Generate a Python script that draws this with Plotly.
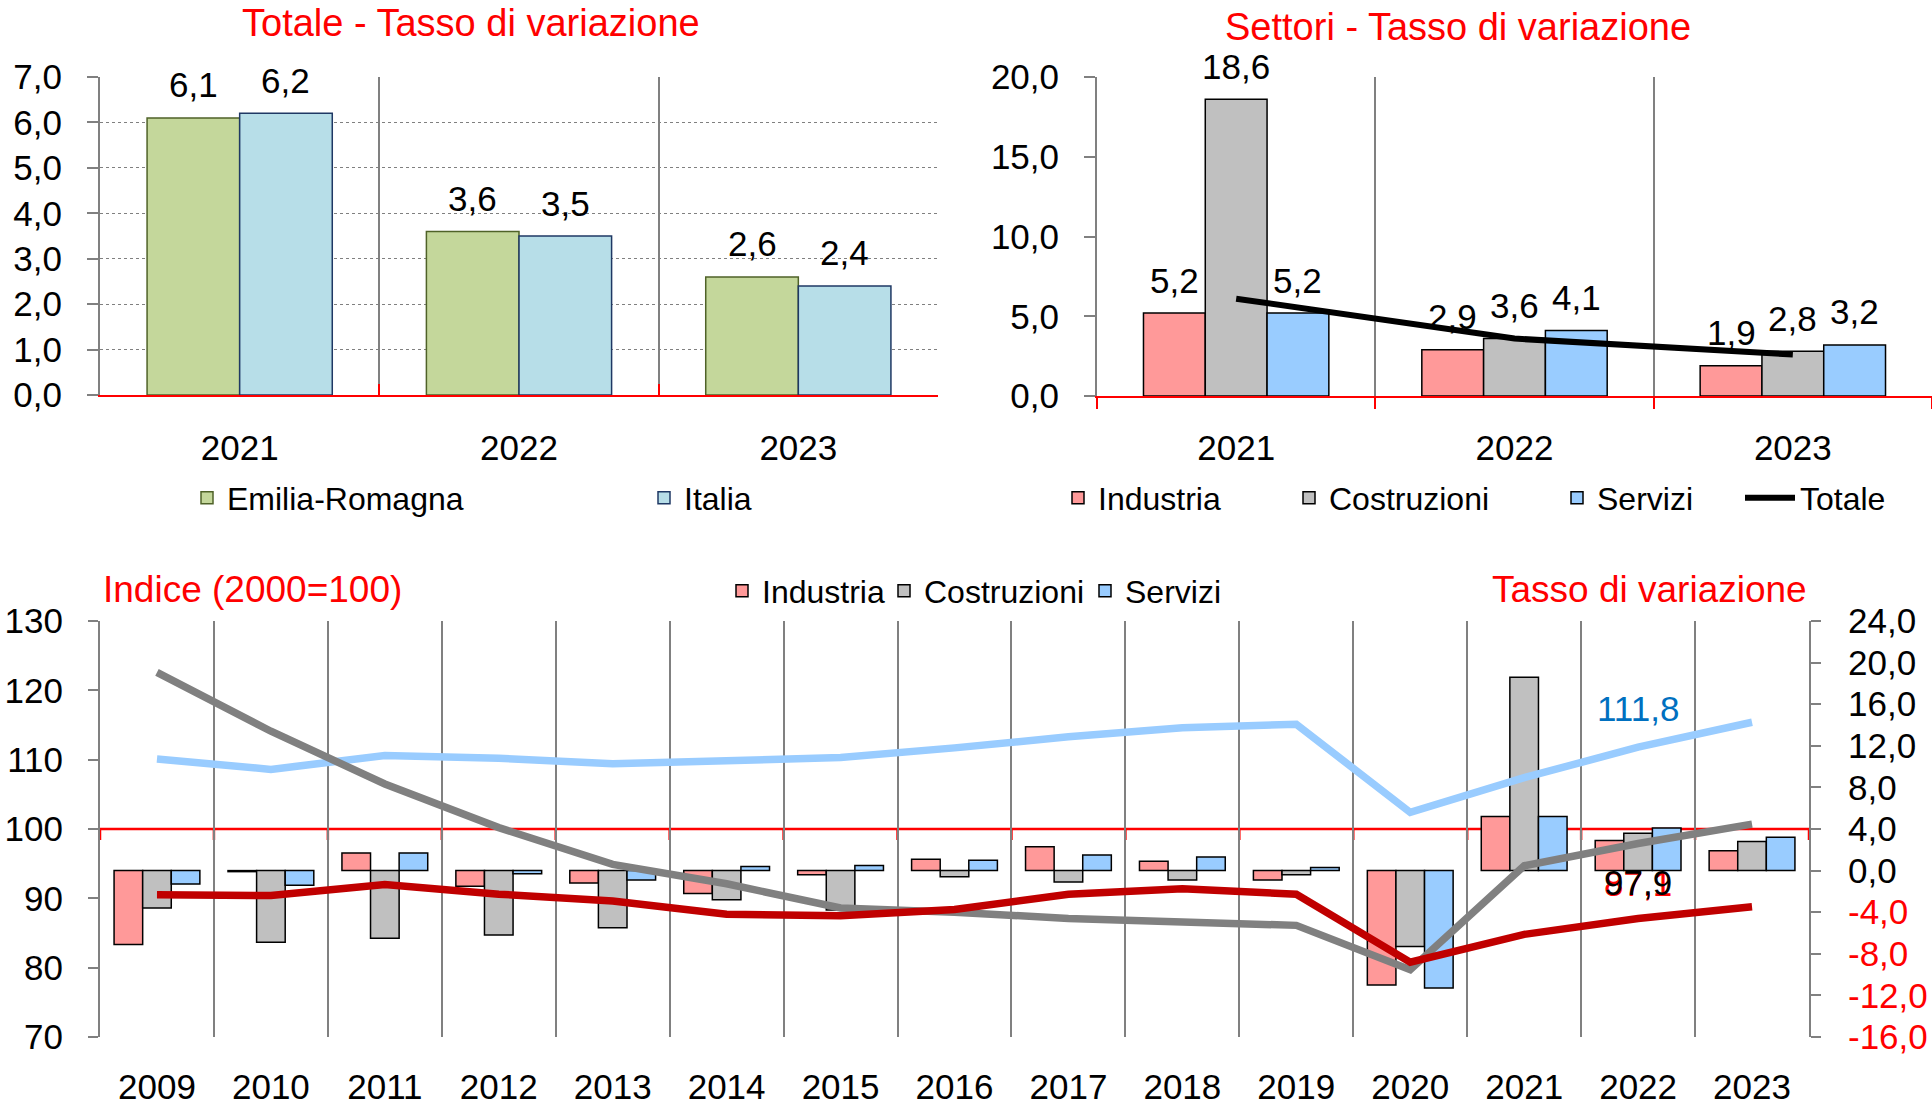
import plotly.graph_objects as go

W, H = 1932, 1108
FONT = "Liberation Sans, Arial, sans-serif"
RED = "#FF0000"
GRID = "#808080"

# ---------------- data ----------------
top_years = ["2021", "2022", "2023"]
tot_er = [6.1, 3.6, 2.6]
tot_it = [6.2, 3.5, 2.4]

set_ind = [5.2, 2.9, 1.9]
set_cos = [18.6, 3.6, 2.8]
set_ser = [5.2, 4.1, 3.2]
set_tot = [6.1, 3.6, 2.6]

years = ["2009", "2010", "2011", "2012", "2013", "2014", "2015", "2016",
         "2017", "2018", "2019", "2020", "2021", "2022", "2023"]
ind_rate = [-7.1, -0.1, 1.7, -1.5, -1.2, -2.2, -0.4, 1.1, 2.3, 0.9, -0.9, -11.0, 5.2, 2.9, 1.9]
cos_rate = [-3.6, -6.9, -6.5, -6.2, -5.5, -2.8, -3.8, -0.6, -1.1, -0.9, -0.4, -7.3, 18.6, 3.6, 2.8]
ser_rate = [-1.3, -1.4, 1.7, -0.3, -0.9, 0.4, 0.5, 1.0, 1.5, 1.3, 0.3, -11.3, 5.2, 4.1, 3.2]

ind_idx = [90.5, 90.4, 92.0, 90.6, 89.6, 87.7, 87.5, 88.4, 90.6, 91.4, 90.6, 80.8, 84.8, 87.1, 88.8]
cos_idx = [122.6, 114.1, 106.5, 100.2, 94.9, 92.1, 88.6, 88.0, 87.1, 86.5, 86.1, 79.7, 94.7, 97.9, 100.7]
ser_idx = [110.1, 108.6, 110.6, 110.2, 109.4, 109.8, 110.3, 111.7, 113.3, 114.6, 115.1, 102.4, 107.4, 111.8, 115.4]

rate_ticks = [-16, -12, -8, -4, 0, 4, 8, 12, 16, 20, 24]
BASE_INDEX = 100


def px(x):
    return x / W


def py(y):
    return 1 - y / H


def fmt(v):
    return f"{v:.1f}".replace(".", ",")


fig = go.Figure()
lblfont = dict(size=35, color="black", family=FONT)
LABEL_SHIFT = 33


def bar_labels(vals, off, width, xref, yref):
    for i, v in enumerate(vals):
        fig.add_annotation(x=i + off + width / 2, y=v, xref=xref, yref=yref, text=fmt(v),
                           showarrow=False, yanchor="middle", yshift=LABEL_SHIFT,
                           font=lblfont)


# ---------------- top-left: Totale ----------------
bw2 = 0.3315
for vals, name, col, lc, off, lg in [(tot_er, "Emilia-Romagna", "#C4D79B", "#4F6228", -bw2, "legend"),
                                     (tot_it, "Italia", "#B7DEE8", "#1F3864", 0, "legend2")]:
    fig.add_trace(go.Bar(x=top_years, y=vals, name=name, xaxis="x", yaxis="y",
                         offset=off, width=bw2,
                         marker=dict(color=col, line=dict(color=lc, width=1.5)),
                         legend=lg))
    bar_labels(vals, off, bw2, "x", "y")

# ---------------- top-right: Settori ----------------
bw3 = 0.222
for vals, name, col, off, lg in [(set_ind, "Industria", "#FF9999", -1.5 * bw3, "legend3"),
                                 (set_cos, "Costruzioni", "#C0C0C0", -0.5 * bw3, "legend4"),
                                 (set_ser, "Servizi", "#99CCFF", 0.5 * bw3, "legend5")]:
    fig.add_trace(go.Bar(x=top_years, y=vals, name=name, xaxis="x2", yaxis="y2",
                         offset=off, width=bw3,
                         marker=dict(color=col, line=dict(color="black", width=1.5)),
                         legend=lg))
    bar_labels(vals, off, bw3, "x2", "y2")
fig.add_trace(go.Scatter(x=top_years, y=set_tot, name="Totale", xaxis="x2", yaxis="y2",
                         mode="lines", line=dict(color="black", width=6), legend="legend6"))

# ---------------- bottom: bars (rates, right axis) ----------------
bwb = 0.251
for vals, name, col, off, lg in [(ind_rate, "Industria", "#FF9999", -1.5 * bwb, "legend7"),
                                 (cos_rate, "Costruzioni", "#C0C0C0", -0.5 * bwb, "legend8"),
                                 (ser_rate, "Servizi", "#99CCFF", 0.5 * bwb, "legend9")]:
    fig.add_trace(go.Bar(x=years, y=vals, name=name, xaxis="x3", yaxis="y3",
                         offset=off, width=bwb,
                         marker=dict(color=col, line=dict(color="black", width=1.5)),
                         legend=lg))

# ---------------- bottom: lines (index, left axis) ----------------
for vals, col in [(ser_idx, "#99CCFF"), (cos_idx, "#808080"), (ind_idx, "#C00000")]:
    fig.add_trace(go.Scatter(x=years, y=vals, xaxis="x3", yaxis="y4", mode="lines",
                             line=dict(color=col, width=7.5), showlegend=False))

tickfont = dict(size=35, color="black", family=FONT)
n = len(years)

layout = dict(
    template="none",
    width=W, height=H, autosize=False,
    margin=dict(l=0, r=0, t=0, b=0, pad=0),
    paper_bgcolor="white", plot_bgcolor="white",
    separators=",.",
    barmode="overlay",
    font=dict(family=FONT, size=31, color="black"),
    # top-left
    xaxis=dict(domain=[px(100), px(938)], anchor="y", type="category", tickson="boundaries",
               range=[-0.5, len(top_years) - 0.5],
               showgrid=True, gridcolor=GRID, gridwidth=1.5,
               showline=True, linecolor=RED, linewidth=2,
               ticks="inside", tickcolor=RED, ticklen=11, tickwidth=2,
               tickfont=tickfont, ticklabelstandoff=21, automargin=False),
    yaxis=dict(domain=[py(395), py(77)], anchor="x", range=[0, 7], dtick=1, tickformat=".1f",
               showgrid=True, gridcolor=GRID, griddash="dot", gridwidth=1,
               showline=True, linecolor=GRID, linewidth=2,
               ticks="outside", tickcolor=GRID, ticklen=11, tickwidth=2,
               zeroline=False, tickfont=tickfont, ticklabelstandoff=18, automargin=False),
    # top-right
    xaxis2=dict(domain=[px(1097), 1.0], anchor="y2", type="category", tickson="boundaries",
                range=[-0.5, len(top_years) - 0.5],
                showgrid=True, gridcolor=GRID, gridwidth=1.5,
                showline=True, linecolor=RED, linewidth=2,
                ticks="outside", tickcolor=RED, ticklen=11, tickwidth=2,
                tickfont=tickfont, ticklabelstandoff=20, automargin=False),
    yaxis2=dict(domain=[py(396), py(77)], anchor="x2", range=[0, 20], dtick=5, tickformat=".1f",
                showgrid=False, showline=True, linecolor=GRID, linewidth=2,
                ticks="outside", tickcolor=GRID, ticklen=11, tickwidth=2,
                zeroline=False, tickfont=tickfont, ticklabelstandoff=18, automargin=False),
    # bottom
    xaxis3=dict(domain=[px(100), px(1809)], anchor="y3", type="category", tickson="boundaries",
                range=[-0.5, n - 0.5], tickangle=0,
                showgrid=True, gridcolor=GRID, gridwidth=1.5, showline=False, ticks="",
                tickfont=tickfont, ticklabelstandoff=26, automargin=False),
    yaxis3=dict(domain=[py(1037), py(621)], anchor="x3", side="right", range=[-16, 24],
                tickvals=rate_ticks,
                ticktext=[(f'<span style="color:#FF0000">{fmt(v)}</span>' if v < 0 else fmt(v))
                          for v in rate_ticks],
                showgrid=False, zeroline=False, showline=True, linecolor=GRID, linewidth=2,
                ticks="outside", tickcolor=GRID, ticklen=10, tickwidth=2,
                tickfont=tickfont, ticklabelstandoff=20, automargin=False),
    yaxis4=dict(domain=[py(1037), py(621)], overlaying="y3", anchor="x3",
                side="left", range=[70, 130], dtick=10,
                showgrid=False, zeroline=False, showline=True, linecolor=GRID, linewidth=2,
                ticks="outside", tickcolor=GRID, ticklen=10, tickwidth=2,
                tickfont=tickfont, ticklabelstandoff=18, automargin=False),
)

# legends, one per entry for exact placement
leg_pos = {
    "legend": (227 - 40, 498, 30),
    "legend2": (684 - 40, 498, 30),
    "legend3": (1098 - 40, 498, 30),
    "legend4": (1329 - 40, 498, 30),
    "legend5": (1597 - 40, 498, 30),
    "legend6": (1800 - 60, 498, 50),
    "legend7": (762 - 40, 591, 30),
    "legend8": (924 - 40, 591, 30),
    "legend9": (1125 - 40, 591, 30),
}
for key, (lx, ly, iw) in leg_pos.items():
    layout[key] = dict(x=px(lx), y=py(ly), xanchor="left", yanchor="middle",
                       orientation="h", bgcolor="rgba(0,0,0,0)", borderwidth=0,
                       itemwidth=iw, font=dict(size=32, color="black", family=FONT))

fig.update_layout(**layout)

# red reference line at index 100 with ticks at category boundaries
fig.add_shape(type="line", xref="x3", yref="y4", x0=-0.5, x1=n - 0.5,
              y0=BASE_INDEX, y1=BASE_INDEX, line=dict(color=RED, width=2.5), layer="below")
for i in range(n + 1):
    fig.add_shape(type="line", xref="x3", yref="y4", x0=i - 0.5, x1=i - 0.5,
                  ysizemode="pixel", yanchor=BASE_INDEX, y0=0, y1=-11,
                  line=dict(color=RED, width=2.5), layer="below")

# titles
ann = [
    dict(text="Totale - Tasso di variazione", x=px(471), y=py(23), xanchor="center",
         yanchor="middle", font=dict(size=38, color=RED)),
    dict(text="Settori - Tasso di variazione", x=px(1458), y=py(27), xanchor="center",
         yanchor="middle", font=dict(size=38, color=RED)),
    dict(text="Indice (2000=100)", x=px(101), y=py(589), xanchor="left",
         yanchor="middle", font=dict(size=37, color=RED)),
    dict(text="Tasso di variazione", x=px(1809), y=py(589), xanchor="right",
         yanchor="middle", font=dict(size=37, color=RED)),
]
for a in ann:
    a.update(xref="paper", yref="paper", showarrow=False)
    a["font"]["family"] = FONT
    fig.add_annotation(**a)

# data labels on the index lines (2022)
i22 = years.index("2022")
for val, col, shift in [(ser_idx[i22], "#0070C0", 39), (ind_idx[i22], RED, 35),
                        (cos_idx[i22], "black", -39)]:
    fig.add_annotation(x=i22, y=val, xref="x3", yref="y4", text=fmt(val),
                       showarrow=False, yshift=shift,
                       font=dict(size=35, color=col, family=FONT))

fig.write_html("out.html", include_plotlyjs=True, config={"displayModeBar": False},
               post_script="document.body.style.margin='0';document.body.style.overflow='hidden';")
